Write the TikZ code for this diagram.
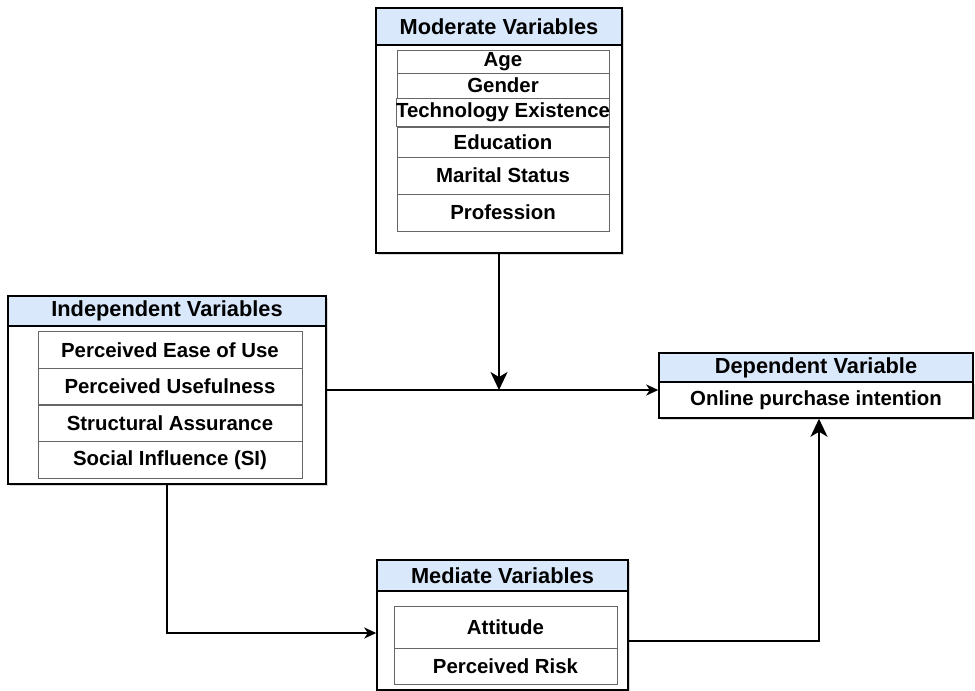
\documentclass[tikz,border=0pt]{standalone}
\usepackage{fontspec}
\setmainfont{Liberation Sans}
\usetikzlibrary{arrows.meta,shadows}
\definecolor{headblue}{RGB}{218,232,252}
\begin{document}
\begin{tikzpicture}[
x=1pt, y=-1pt,
outerbox/.style={
  draw=black,
  fill=white,
  line width=1.5pt,
  inner sep=0pt,
  drop shadow={shadow xshift=1.5pt,shadow yshift=-1.5pt,opacity=0.3}
},
headbox/.style={
  draw=black,
  fill=headblue,
  line width=1.5pt,
  inner sep=0pt,
  font=\fontsize{21.8}{24}\selectfont\bfseries
},
itembox/.style={
  draw=black!60,
  line width=0.9pt,
  inner sep=0pt,
  font=\fontsize{20.4}{22}\selectfont\bfseries
},
link/.style={black,line width=1.8pt},
bigtip/.style={-{Stealth[length=18pt,width=17pt,inset=5pt]}},
smalltip/.style={-{Stealth[length=12pt,width=11pt,inset=3.5pt]}}
]
\useasboundingbox (0,0) rectangle (975,691);

% moderate variables
\node (modbox) at (499,130.5) [outerbox, minimum width=246, minimum height=245] {};
\node (modhead) at (499,26.5) [headbox, minimum width=246, minimum height=37] {Moderate Variables};
\node (age) at (503,61.5) [itembox, minimum width=212, minimum height=23] {Age};
\node (gender) at (503,85.5) [itembox, minimum width=212, minimum height=25] {Gender};
\node (tech) at (503,112) [itembox, minimum width=212, minimum height=28] {Technology Existence};
\node (edu) at (503,142) [itembox, minimum width=212, minimum height=30] {Education};
\node (marital) at (503,175.5) [itembox, minimum width=212, minimum height=37] {Marital Status};
\node (prof) at (503,212.5) [itembox, minimum width=212, minimum height=37] {Profession};

% independent variables
\node (indbox) at (167,390) [outerbox, minimum width=318, minimum height=188] {};
\node (indhead) at (167,311) [headbox, minimum width=318, minimum height=30] {Independent Variables};
\node (peou) at (170,350) [itembox, minimum width=264, minimum height=36.5] {Perceived Ease of Use};
\node (pu) at (170,386.5) [itembox, minimum width=264, minimum height=36.5] {Perceived Usefulness};
\node (sa) at (170,423.5) [itembox, minimum width=264, minimum height=36.5] {Structural Assurance};
\node (si) at (170,460) [itembox, minimum width=264, minimum height=36.5] {Social Influence (SI)};

% dependent variable
\node (depbody) at (816,400) [outerbox, minimum width=314, minimum height=36,
  font=\fontsize{20.4}{22}\selectfont\bfseries] {Online purchase intention};
\node (dephead) at (816,367.5) [headbox, minimum width=314, minimum height=29] {Dependent Variable};

% mediate variables
\node (medbox) at (502.5,625) [outerbox, minimum width=251, minimum height=130] {};
\node (medhead) at (502.5,575.5) [headbox, minimum width=251, minimum height=31] {Mediate Variables};
\node (att) at (505.5,627) [itembox, minimum width=223, minimum height=42] {Attitude};
\node (risk) at (505.5,666) [itembox, minimum width=223, minimum height=36] {Perceived Risk};

% connectors
\coordinate (meet) at (modbox.south |- indbox.east);
\draw [link,smalltip] (indbox.east) -- (indbox.east -| depbody.west);
\draw [link,bigtip] (modbox.south) -- (meet);
\draw [link,smalltip] (indbox.south) |- ([yshift=-8pt]medbox.west);
\draw [link,bigtip] ([yshift=-16pt]medbox.east) -| ([xshift=3pt]depbody.south);

\end{tikzpicture}
\end{document}
